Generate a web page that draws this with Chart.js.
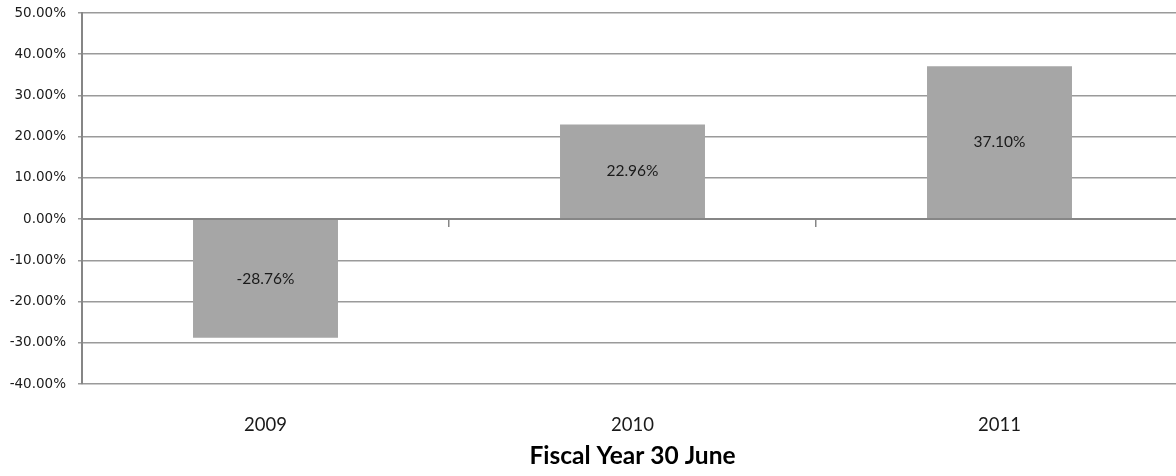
<!DOCTYPE html>
<html>
<head>
<meta charset="utf-8">
<script src="https://cdn.jsdelivr.net/npm/chart.js@4/dist/chart.umd.min.js"></script>
<style>
    html, body { margin: 0; padding: 0; background: #fff; overflow: hidden; }
    #wrap { width: 1190px; height: 476px; position: relative; }
</style>
</head>
<body>
<div id="wrap"><canvas id="chart"></canvas></div>
<script>
const years = ["2009", "2010", "2011"];
const returns = [-28.76, 22.96, 37.10];
const yMin = -40, yMax = 50, yStep = 10;
const xTitle = "Fiscal Year 30 June";

const AXIS = "#868686";
const GRID = "#9a9a9a";

// Value labels in the middle of each bar.
const barLabels = {
    id: "barLabels",
    afterDatasetsDraw(chart) {
        const ctx = chart.ctx;
        const meta = chart.getDatasetMeta(0);
        ctx.save();
        ctx.font = "15.5px Lato";
        ctx.fillStyle = "#1a1a1a";
        ctx.textAlign = "center";
        ctx.textBaseline = "middle";
        meta.data.forEach((bar, i) => {
            const v = chart.data.datasets[0].data[i];
            ctx.fillText(v.toFixed(2) + "%", bar.x, (bar.y + bar.base) / 2);
        });
        ctx.restore();
    },
};

new Chart(document.getElementById("chart"), {
    type: "bar",
    data: {
        labels: years,
        datasets: [{
            data: returns,
            backgroundColor: "#a6a6a6",
            borderWidth: 0,
            categoryPercentage: 1,
            barPercentage: 0.395,
        }],
    },
    options: {
        responsive: true,
        maintainAspectRatio: false,
        animation: false,
        layout: { padding: { top: 13, right: 7, left: 0, bottom: 0 } },
        plugins: { legend: { display: false }, tooltip: { enabled: false } },
        scales: {
            x: {
                grid: { display: false },
                border: { display: false },
                ticks: { color: "#1a1a1a", font: { family: "Lato", size: 18.5 }, padding: 22 },
                title: {
                    display: true, text: xTitle, color: "#000",
                    font: { family: "Lato", size: 24.5, weight: "bold" },
                    padding: { top: 0, bottom: 5 },
                },
                afterFit: s => { s.height = 92; },
            },
            // Zero line with the category separators hanging under it.
            x2: {
                type: "category",
                position: { y: 0 },
                offset: true,
                grid: { offset: true, drawOnChartArea: false, tickLength: 7, color: AXIS, lineWidth: 1.5 },
                border: { display: true, color: AXIS, width: 2, z: 1 },
                ticks: { display: false },
            },
            y: {
                min: yMin, max: yMax,
                ticks: {
                    stepSize: yStep,
                    color: "#1a1a1a",
                    font: { family: "DejaVu Sans", size: 13.5 },
                    padding: 12,
                    callback: v => v.toFixed(2) + "%",
                },
                grid: { color: GRID, lineWidth: 1.5, tickLength: 4 },
                border: { color: AXIS, width: 2 },
                afterFit: s => { s.width = 82; s.paddingTop = 0; s.paddingBottom = 0; },
            },
        },
    },
    plugins: [barLabels],
});
</script>
</body>
</html>
